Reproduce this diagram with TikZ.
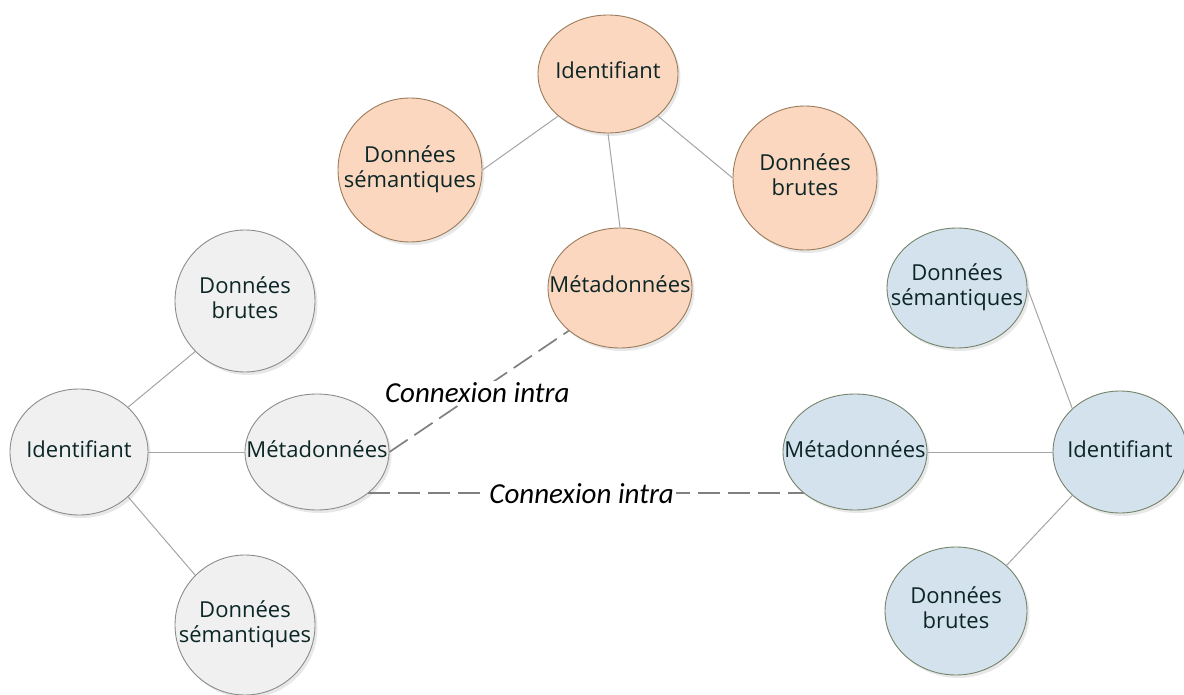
\documentclass[tikz,border=0pt]{standalone}
\usepackage{fontspec}
\setmainfont{Open Sans}
\newfontfamily\labelfont{Carlito}
\usetikzlibrary{shapes.geometric,shadows}

\definecolor{peachfill}{HTML}{FBD7C0}
\definecolor{peachline}{HTML}{9A7B5A}
\definecolor{greyfill}{HTML}{F0F0F0}
\definecolor{greyline}{HTML}{8C8C8C}
\definecolor{bluefill}{HTML}{D4E2ED}
\definecolor{blueline}{HTML}{74836A}
\definecolor{nodetext}{HTML}{0C2626}
\definecolor{linkgrey}{HTML}{A4A4A4}
\definecolor{dashgrey}{HTML}{808080}

% centred, zero-width text block so the ellipse keeps its own size
\newcommand\nodetxt[1]{\makebox[0pt]{\begin{tabular}{@{}c@{}}#1\end{tabular}}}

\tikzset{
  ell/.style 2 args={ellipse, minimum width=#1pt, minimum height=#2pt,
    inner sep=0pt, line width=0.9pt, text=nodetext,
    font=\fontsize{22}{25}\selectfont,
    drop shadow={shadow xshift=2.5pt, shadow yshift=-3pt, opacity=0.18}},
  peach/.style={draw=peachline, fill=peachfill},
  greyish/.style={draw=greyline, fill=greyfill},
  bluish/.style={draw=blueline, fill=bluefill},
  link/.style={draw=linkgrey, line width=1pt},
  intra/.style={draw=dashgrey, line width=1.7pt, dash pattern=on 22pt off 8pt},
  intralabel/.style={fill=white, inner sep=2pt, text=black,
    font=\labelfont\itshape\fontsize{29}{32}\selectfont}
}

\begin{document}
\begin{tikzpicture}[x=1pt, y=-1pt]
\useasboundingbox (0,0) rectangle (1184,695);

% upper cluster
\node[peach, ell={140}{118}] (idT) at (608,74) {\nodetxt{Identifiant}};
\node[peach, ell={144}{144}] (dsT) at (410,170) {\nodetxt{Données\\sémantiques}};
\node[peach, ell={144}{144}] (dbT) at (805,178) {\nodetxt{Données\\brutes}};
\node[peach, ell={144}{120}] (mdT) at (620,288) {\nodetxt{Métadonnées}};

% left cluster
\node[greyish, ell={140}{142}] (dbL) at (245,301) {\nodetxt{Données\\brutes}};
\node[greyish, ell={138}{126}] (idL) at (79,452) {\nodetxt{Identifiant}};
\node[greyish, ell={144}{116}] (mdL) at (317,452) {\nodetxt{Métadonnées}};
\node[greyish, ell={140}{140}] (dsL) at (245,625) {\nodetxt{Données\\sémantiques}};

% right cluster
\node[bluish, ell={140}{120}] (dsR) at (957,288) {\nodetxt{Données\\sémantiques}};
\node[bluish, ell={144}{116}] (mdR) at (855,452) {\nodetxt{Métadonnées}};
\node[bluish, ell={134}{122}] (idR) at (1120,452) {\nodetxt{Identifiant}};
\node[bluish, ell={142}{128}] (dbR) at (956,611) {\nodetxt{Données\\brutes}};

% links inside each cluster
\path[link] (idT.south west) -- (dsT.east);
\path[link] (idT.south east) -- (dbT.west);
\path[link] (idT.south) -- (mdT.north);

\path[link] (idL.north east) -- (dbL.south west);
\path[link] (idL.east) -- (mdL.west);
\path[link] (idL.south east) -- (dsL.north west);

\path[link] (mdR.east) -- (idR.west);
\path[link] (dsR.east) -- (idR.north west);
\path[link] (idR.south west) -- (dbR.north east);

% links between clusters
\path[intra] (mdL.east) -- node[intralabel, pos=0.49] (c1) {Connexion intra} (mdT.south west);
\path[intra] (mdL.south east) -- node[intralabel, pos=0.49] (c2) {Connexion intra} (mdR.south west);
\end{tikzpicture}
\end{document}
